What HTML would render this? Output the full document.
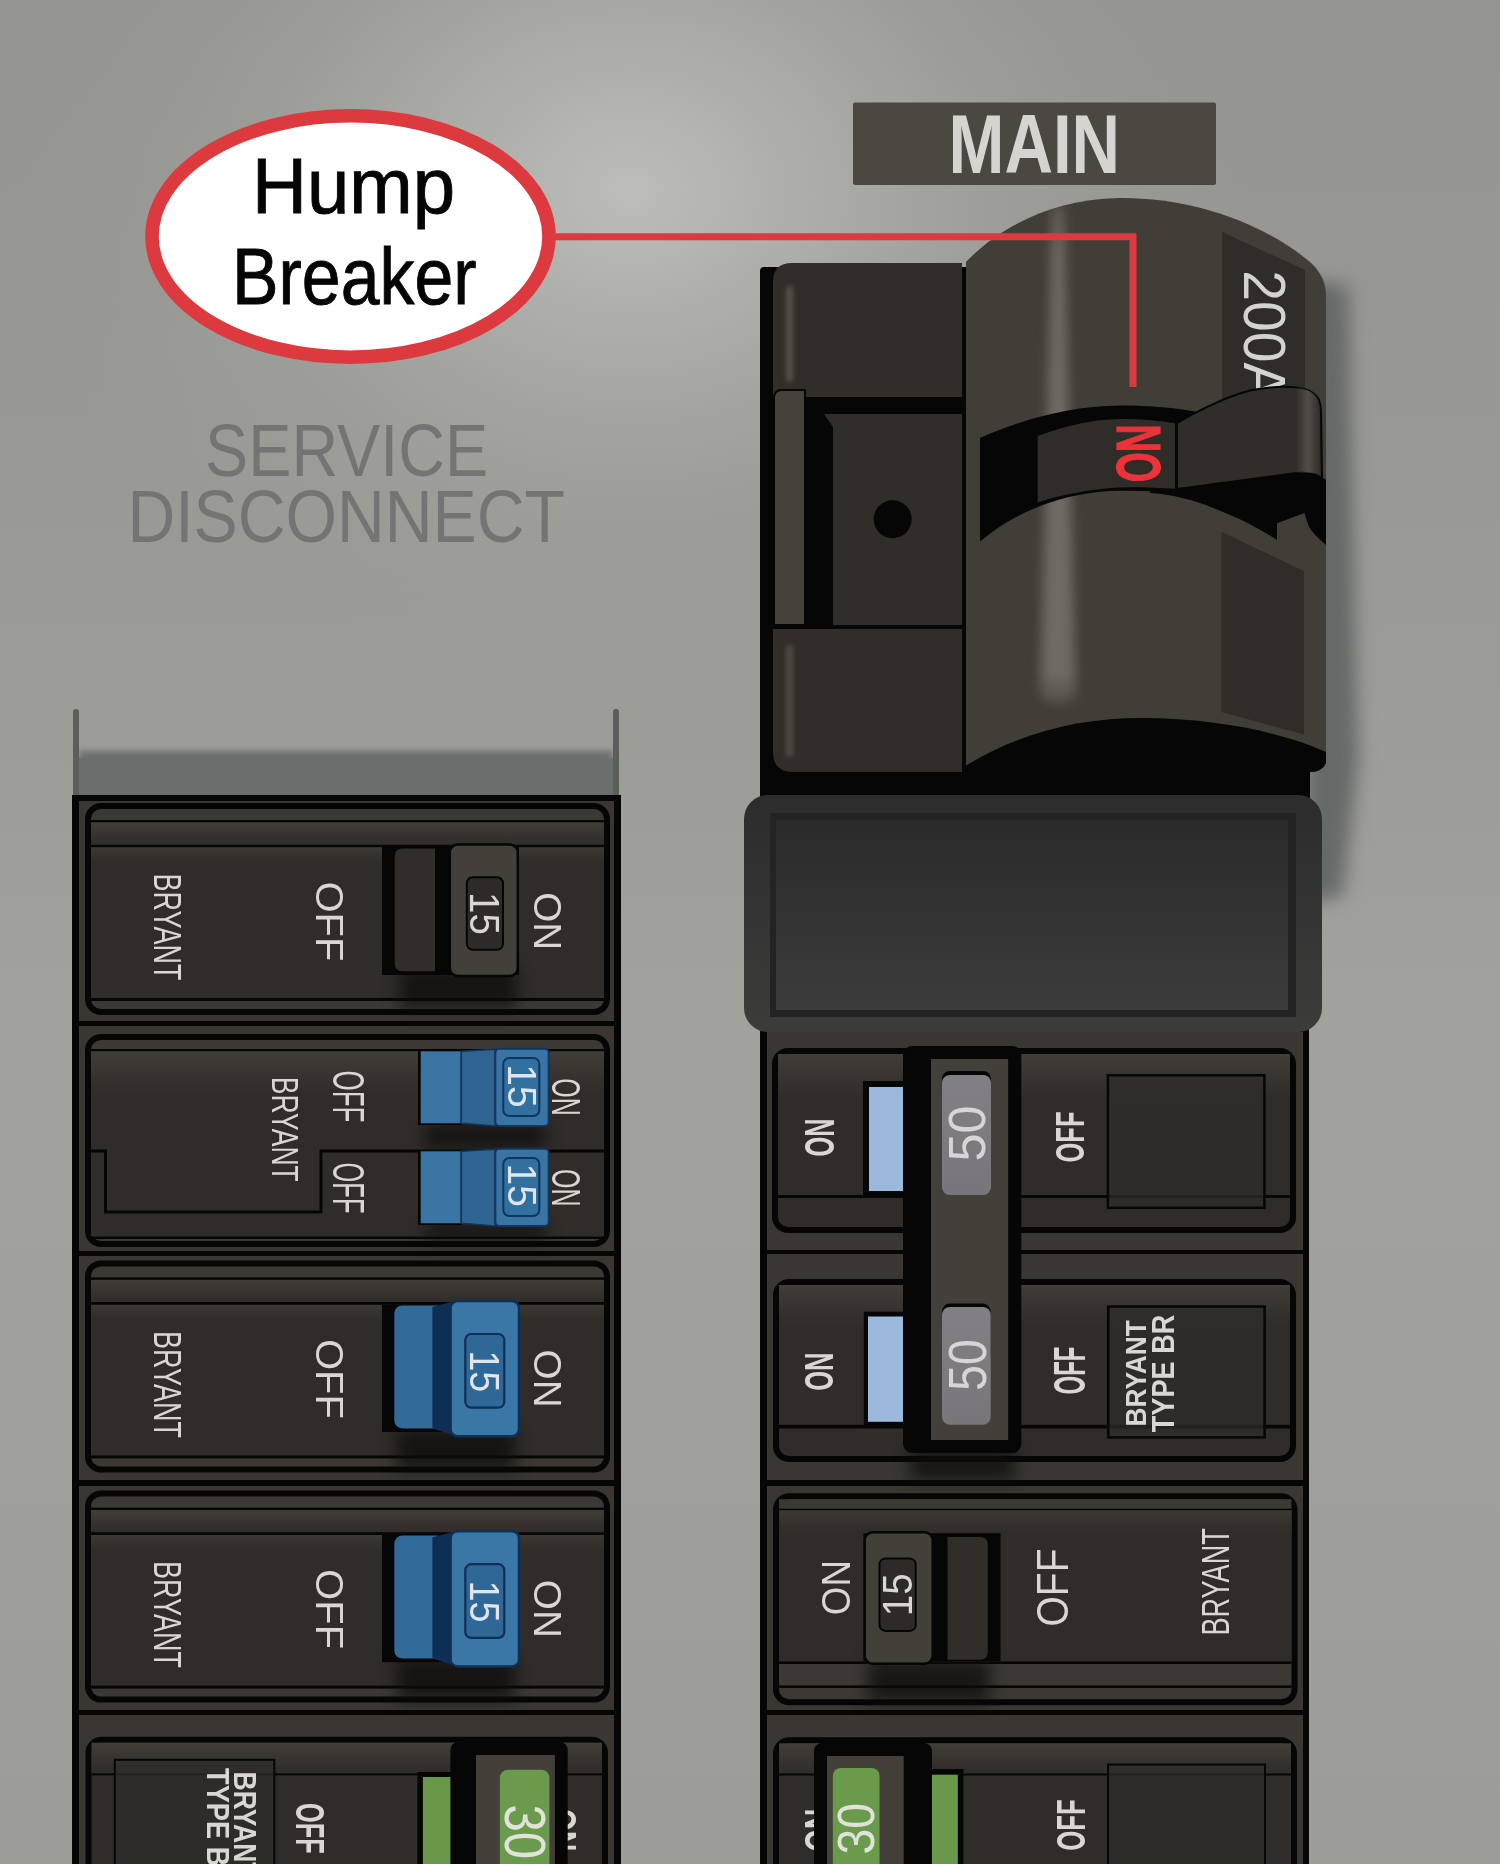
<!DOCTYPE html>
<html><head><meta charset="utf-8"><title>Hump Breaker</title>
<style>html,body{margin:0;padding:0;background:#9b9b96;overflow:hidden}svg{display:block;will-change:transform}
text{font-family:'Liberation Sans', sans-serif}</style></head>
<body><svg width="1500" height="1864" viewBox="0 0 1500 1864" font-family="'Liberation Sans', sans-serif">
<defs>
<linearGradient id="bgV" x1="0" y1="0" x2="0" y2="1864" gradientUnits="userSpaceOnUse">
 <stop offset="0" stop-color="#949490"/>
 <stop offset="0.32" stop-color="#9b9b96"/>
 <stop offset="0.55" stop-color="#a2a29d"/>
 <stop offset="0.8" stop-color="#a0a09b"/>
 <stop offset="1" stop-color="#9d9d98"/>
</linearGradient>
<radialGradient id="bgG" cx="630" cy="190" r="620" gradientUnits="userSpaceOnUse" gradientTransform="translate(630 190) scale(1 0.8) translate(-630 -190)">
 <stop offset="0" stop-color="#bdbdbb" stop-opacity="1"/>
 <stop offset="0.3" stop-color="#b0b0ad" stop-opacity="0.85"/>
 <stop offset="0.65" stop-color="#a3a39f" stop-opacity="0.4"/>
 <stop offset="1" stop-color="#9c9c97" stop-opacity="0"/>
</radialGradient>
<linearGradient id="faceTop" x1="0" y1="0" x2="0" y2="1">
 <stop offset="0" stop-color="#413d37"/>
 <stop offset="1" stop-color="#2f2c29"/>
</linearGradient>
<linearGradient id="faceTop2" x1="0" y1="0" x2="0" y2="1">
 <stop offset="0" stop-color="#3c3832"/>
 <stop offset="1" stop-color="#2f2c29"/>
</linearGradient>
<linearGradient id="streak" x1="0" y1="0" x2="1" y2="0">
 <stop offset="0" stop-color="#7c776f" stop-opacity="0"/>
 <stop offset="0.5" stop-color="#7c776f" stop-opacity="0.85"/>
 <stop offset="1" stop-color="#7c776f" stop-opacity="0"/>
</linearGradient>
<linearGradient id="streakS" x1="0" y1="0" x2="1" y2="0">
 <stop offset="0" stop-color="#55514a" stop-opacity="0"/>
 <stop offset="0.5" stop-color="#55514a" stop-opacity="0.9"/>
 <stop offset="1" stop-color="#55514a" stop-opacity="0"/>
</linearGradient>
<linearGradient id="coverG" x1="0" y1="0" x2="0" y2="1">
 <stop offset="0" stop-color="#2c2c2c"/>
 <stop offset="1" stop-color="#3c3c3b"/>
</linearGradient>
<linearGradient id="coverIn" x1="0" y1="0" x2="0" y2="1">
 <stop offset="0" stop-color="#2a2a2a"/>
 <stop offset="1" stop-color="#3c3c3c"/>
</linearGradient>
<linearGradient id="grayLbl" x1="0" y1="0" x2="0" y2="1">
 <stop offset="0" stop-color="#828085"/>
 <stop offset="1" stop-color="#78767a"/>
</linearGradient>
<linearGradient id="vfade" x1="0" y1="0" x2="0" y2="1">
 <stop offset="0" stop-color="#fff" stop-opacity="0.6"/>
 <stop offset="0.1" stop-color="#fff" stop-opacity="1"/>
 <stop offset="0.9" stop-color="#fff" stop-opacity="1"/>
 <stop offset="1" stop-color="#fff" stop-opacity="0"/>
</linearGradient>
<mask id="streakMask" maskUnits="userSpaceOnUse" x="1000" y="190" width="130" height="540"><rect x="1000" y="195" width="130" height="530" fill="url(#vfade)"/></mask>
<clipPath id="humpClip"><path d="M966,262 C1000,226 1055,199 1118,198 C1190,197 1262,222 1310,262 Q1326,276 1326,296 L1326,772 L966,772 Z"/></clipPath>
<clipPath id="leverClip"><path d="M1177,423.2 C1195,412 1225,397 1251,390.3 C1265,387.5 1280,386.5 1290,387 C1305,387.5 1315,392 1319,400 Q1321,405 1321,412 L1322,479 C1318,474 1312,472 1302,472.6 C1270,476 1220,484 1177,489 Z"/></clipPath>
<filter id="blur3" filterUnits="userSpaceOnUse" x="0" y="0" width="1500" height="1864"><feGaussianBlur stdDeviation="3"/></filter>
<filter id="blur4" filterUnits="userSpaceOnUse" x="0" y="0" width="1500" height="1864"><feGaussianBlur stdDeviation="4"/></filter>
<filter id="blur8" filterUnits="userSpaceOnUse" x="0" y="0" width="1500" height="1864"><feGaussianBlur stdDeviation="8"/></filter>
<filter id="blur12" filterUnits="userSpaceOnUse" x="0" y="0" width="1500" height="1864"><feGaussianBlur stdDeviation="12"/></filter>
</defs>
<rect x="0" y="0" width="1500" height="1864" fill="url(#bgV)"/>
<rect x="0" y="0" width="1500" height="1864" fill="url(#bgG)"/>
<rect x="79" y="751" width="534" height="60" fill="#6a6e6d" style="filter:blur(3px)"/>
<rect x="79.0" y="758.0" width="534.0" height="40.0" fill="#6a6e6d" />
<rect x="73.0" y="709.0" width="6.0" height="90.0" rx="3" fill="#5c5d5c" />
<rect x="613.0" y="709.0" width="6.0" height="90.0" rx="3" fill="#5c5d5c" />
<rect x="72.0" y="795.0" width="549.0" height="1080.0" fill="#060606" />
<rect x="79.0" y="801.0" width="535.0" height="1080.0" fill="#3a3732" />
<rect x="79.0" y="1021.0" width="535.0" height="5.0" fill="#060606" />
<rect x="79.0" y="1251.0" width="535.0" height="5.0" fill="#060606" />
<rect x="79.0" y="1480.0" width="535.0" height="6.0" fill="#060606" />
<rect x="79.0" y="1710.0" width="535.0" height="5.0" fill="#060606" />
<path d="M1305,280 L1348,286 L1358,760 L1343,895 L1305,905 Z" fill="#656968" style="filter:blur(9px)"/>
<rect x="760.0" y="700.0" width="549.0" height="1200.0" fill="#060606" />
<rect x="767.0" y="1032.0" width="536.0" height="840.0" fill="#3a3732" />
<rect x="767.0" y="1250.0" width="536.0" height="4.0" fill="#060606" />
<rect x="767.0" y="1480.0" width="536.0" height="6.0" fill="#060606" />
<rect x="767.0" y="1710.0" width="536.0" height="5.0" fill="#060606" />
<rect x="85.0" y="803.0" width="525.0" height="212.0" rx="16" fill="#060606" />
<rect x="91.0" y="809.0" width="513.0" height="200.0" rx="10" fill="#3c3934" />
<rect x="91.0" y="820.0" width="513.0" height="2.5" fill="#060606" />
<rect x="91.0" y="844.5" width="513.0" height="3.0" fill="#060606" />
<rect x="91.0" y="847.5" width="513.0" height="150.5" fill="#2f2c29" />
<rect x="91.0" y="998.0" width="513.0" height="3.0" fill="#060606" />
<rect x="91.0" y="822.5" width="513.0" height="22.0" fill="url(#faceTop)" />
<rect x="91.0" y="847.5" width="513.0" height="15.5" fill="url(#faceTop2)" />
<text transform="translate(167.2,927.0) rotate(90)" x="0" y="13.2" font-size="38.4" font-weight="normal" fill="#dad7d2" text-anchor="middle" textLength="107.0" lengthAdjust="spacingAndGlyphs">BRYANT</text>
<text transform="translate(329.6,921.5) rotate(90)" x="0" y="13.7" font-size="39.7" font-weight="normal" fill="#dad7d2" text-anchor="middle" textLength="80.0" lengthAdjust="spacingAndGlyphs">OFF</text>
<text transform="translate(547.3,921.2) rotate(90)" x="0" y="13.6" font-size="39.5" font-weight="normal" fill="#dad7d2" text-anchor="middle" textLength="58.0" lengthAdjust="spacingAndGlyphs">ON</text>
<rect x="400" y="968" width="117" height="40" fill="#0d0c0b" fill-opacity="0.75" style="filter:blur(8px)"/>
<rect x="382.0" y="847.0" width="137.0" height="128.0" fill="#060606" />
<path d="M435,848.5 L402.7,848.5 Q394.7,848.5 394.7,856.5 L394.7,963.3 Q394.7,971.3 402.7,971.3 L435,971.3 Z" fill="#312d29"/>
<rect x="449.8" y="844.4" width="68.0" height="131.5" rx="8" fill="#433f39" stroke="#060606" stroke-width="2.5"/>
<rect x="466.8" y="877.3" width="36.2" height="72.5" rx="6" fill="#2d2a27" stroke="#060606" stroke-width="2"/>
<text transform="translate(484.9,913.5) rotate(90)" x="0" y="14.5" font-size="42.2" font-weight="normal" fill="#dad7d2" text-anchor="middle" textLength="43.0" lengthAdjust="spacingAndGlyphs">15</text>
<rect x="85.0" y="1034.0" width="525.0" height="213.0" rx="16" fill="#060606" />
<rect x="91.0" y="1040.0" width="513.0" height="201.0" rx="10" fill="#3c3934" />
<rect x="91.0" y="1049.0" width="513.0" height="2.5" fill="#060606" />
<rect x="91.0" y="1051.5" width="513.0" height="185.0" fill="#2f2c29" />
<rect x="91.0" y="1236.5" width="513.0" height="2.5" fill="#060606" />
<rect x="91.0" y="1051.5" width="513.0" height="42.5" fill="url(#faceTop)" />
<polyline points="88,1151 105.5,1151 105.5,1212 321,1212 321,1151 604,1151" fill="none" stroke="#060606" stroke-width="3"/>
<text transform="translate(284.6,1129.3) rotate(90)" x="0" y="13.0" font-size="37.8" font-weight="normal" fill="#dad7d2" text-anchor="middle" textLength="105.0" lengthAdjust="spacingAndGlyphs">BRYANT</text>
<text transform="translate(348.0,1096.5) rotate(90)" x="0" y="15.0" font-size="43.6" font-weight="normal" fill="#dad7d2" text-anchor="middle" textLength="52.0" lengthAdjust="spacingAndGlyphs">OFF</text>
<text transform="translate(348.0,1188.0) rotate(90)" x="0" y="15.0" font-size="43.6" font-weight="normal" fill="#dad7d2" text-anchor="middle" textLength="51.0" lengthAdjust="spacingAndGlyphs">OFF</text>
<text transform="translate(566.0,1097.0) rotate(90)" x="0" y="14.0" font-size="40.7" font-weight="normal" fill="#dad7d2" text-anchor="middle" textLength="37.5" lengthAdjust="spacingAndGlyphs">ON</text>
<text transform="translate(566.0,1187.7) rotate(90)" x="0" y="14.0" font-size="40.7" font-weight="normal" fill="#dad7d2" text-anchor="middle" textLength="37.5" lengthAdjust="spacingAndGlyphs">ON</text>
<rect x="425" y="1124" width="120" height="24" fill="#0d0c0b" fill-opacity="0.75" style="filter:blur(8px)"/>
<rect x="425" y="1224" width="120" height="16" fill="#0d0c0b" fill-opacity="0.75" style="filter:blur(8px)"/>
<rect x="418.0" y="1050.0" width="44.0" height="75.0" fill="#060606" />
<rect x="420.7" y="1051.3" width="40.0" height="72.0" fill="#3a74a3" />
<path d="M461.3,1051.3 L495.3,1049.3 L495.3,1126.0 L461.3,1123.3 Z" fill="#2e6392" stroke="#0f3560" stroke-width="1.5"/>
<rect x="495.3" y="1048.7" width="53.4" height="77.3" rx="4" fill="#3a74a3" stroke="#0f3560" stroke-width="2"/>
<rect x="503.3" y="1058.0" width="36.0" height="58.0" rx="6" fill="#3270a0" stroke="#0f3560" stroke-width="2"/>
<text transform="translate(522.0,1086.0) rotate(90)" x="0" y="14.0" font-size="40.7" font-weight="normal" fill="#dfe5ea" text-anchor="middle" textLength="43.5" lengthAdjust="spacingAndGlyphs">15</text>
<rect x="418.0" y="1150.0" width="44.0" height="75.0" fill="#060606" />
<rect x="420.7" y="1151.3" width="40.0" height="72.0" fill="#3a74a3" />
<path d="M461.3,1151.3 L495.3,1149.3 L495.3,1226.0 L461.3,1223.3 Z" fill="#2e6392" stroke="#0f3560" stroke-width="1.5"/>
<rect x="495.3" y="1148.7" width="53.4" height="77.3" rx="4" fill="#3a74a3" stroke="#0f3560" stroke-width="2"/>
<rect x="503.3" y="1158.0" width="36.0" height="58.0" rx="6" fill="#3270a0" stroke="#0f3560" stroke-width="2"/>
<text transform="translate(522.0,1185.3) rotate(90)" x="0" y="14.0" font-size="40.7" font-weight="normal" fill="#dfe5ea" text-anchor="middle" textLength="43.5" lengthAdjust="spacingAndGlyphs">15</text>
<rect x="85.0" y="1260.4" width="525.0" height="212.0" rx="16" fill="#060606" />
<rect x="91.0" y="1266.4" width="513.0" height="200.0" rx="10" fill="#3c3934" />
<rect x="91.0" y="1277.4" width="513.0" height="2.5" fill="#060606" />
<rect x="91.0" y="1301.9" width="513.0" height="3.0" fill="#060606" />
<rect x="91.0" y="1304.9" width="513.0" height="150.5" fill="#2f2c29" />
<rect x="91.0" y="1455.4" width="513.0" height="3.0" fill="#060606" />
<rect x="91.0" y="1279.9" width="513.0" height="22.0" fill="url(#faceTop)" />
<rect x="91.0" y="1304.9" width="513.0" height="15.5" fill="url(#faceTop2)" />
<text transform="translate(167.2,1384.4) rotate(90)" x="0" y="13.2" font-size="38.4" font-weight="normal" fill="#dad7d2" text-anchor="middle" textLength="107.0" lengthAdjust="spacingAndGlyphs">BRYANT</text>
<text transform="translate(329.6,1378.9) rotate(90)" x="0" y="13.7" font-size="39.7" font-weight="normal" fill="#dad7d2" text-anchor="middle" textLength="80.0" lengthAdjust="spacingAndGlyphs">OFF</text>
<text transform="translate(547.3,1378.6) rotate(90)" x="0" y="13.6" font-size="39.5" font-weight="normal" fill="#dad7d2" text-anchor="middle" textLength="58.0" lengthAdjust="spacingAndGlyphs">ON</text>
<rect x="397" y="1428.4" width="118" height="42.0" fill="#0d0c0b" fill-opacity="0.75" style="filter:blur(8px)"/>
<rect x="382.0" y="1304.6" width="60.0" height="127.4" fill="#060606" />
<rect x="394.3" y="1305.4" width="50.0" height="123.0" rx="8" fill="#326a99" />
<path d="M432.4,1307.0 L451.5,1302.0 L451.5,1434.4 L432.4,1428.4 Z" fill="#0e2f55"/>
<rect x="450.6" y="1301.0" width="68.4" height="135.3" rx="7" fill="#3a76a6" stroke="#0e3056" stroke-width="2.5"/>
<rect x="465.3" y="1334.0" width="39.0" height="73.7" rx="6" fill="#2f6797" stroke="#0e3056" stroke-width="2.2"/>
<text transform="translate(484.8,1371.2) rotate(90)" x="0" y="14.5" font-size="42.2" font-weight="normal" fill="#dfe5ea" text-anchor="middle" textLength="42.0" lengthAdjust="spacingAndGlyphs">15</text>
<rect x="85.0" y="1490.6" width="525.0" height="212.0" rx="16" fill="#060606" />
<rect x="91.0" y="1496.6" width="513.0" height="200.0" rx="10" fill="#3c3934" />
<rect x="91.0" y="1507.6" width="513.0" height="2.5" fill="#060606" />
<rect x="91.0" y="1532.1" width="513.0" height="3.0" fill="#060606" />
<rect x="91.0" y="1535.1" width="513.0" height="150.5" fill="#2f2c29" />
<rect x="91.0" y="1685.6" width="513.0" height="3.0" fill="#060606" />
<rect x="91.0" y="1510.1" width="513.0" height="22.0" fill="url(#faceTop)" />
<rect x="91.0" y="1535.1" width="513.0" height="15.5" fill="url(#faceTop2)" />
<text transform="translate(167.2,1614.6) rotate(90)" x="0" y="13.2" font-size="38.4" font-weight="normal" fill="#dad7d2" text-anchor="middle" textLength="107.0" lengthAdjust="spacingAndGlyphs">BRYANT</text>
<text transform="translate(329.6,1609.1) rotate(90)" x="0" y="13.7" font-size="39.7" font-weight="normal" fill="#dad7d2" text-anchor="middle" textLength="80.0" lengthAdjust="spacingAndGlyphs">OFF</text>
<text transform="translate(547.3,1608.8) rotate(90)" x="0" y="13.6" font-size="39.5" font-weight="normal" fill="#dad7d2" text-anchor="middle" textLength="58.0" lengthAdjust="spacingAndGlyphs">ON</text>
<rect x="397" y="1658.6" width="118" height="42.0" fill="#0d0c0b" fill-opacity="0.75" style="filter:blur(8px)"/>
<rect x="382.0" y="1534.8" width="60.0" height="127.4" fill="#060606" />
<rect x="394.3" y="1535.6" width="50.0" height="123.0" rx="8" fill="#326a99" />
<path d="M432.4,1537.1999999999998 L451.5,1532.1999999999998 L451.5,1664.6 L432.4,1658.6 Z" fill="#0e2f55"/>
<rect x="450.6" y="1531.2" width="68.4" height="135.3" rx="7" fill="#3a76a6" stroke="#0e3056" stroke-width="2.5"/>
<rect x="465.3" y="1564.2" width="39.0" height="73.7" rx="6" fill="#2f6797" stroke="#0e3056" stroke-width="2.2"/>
<text transform="translate(484.8,1601.4) rotate(90)" x="0" y="14.5" font-size="42.2" font-weight="normal" fill="#dfe5ea" text-anchor="middle" textLength="42.0" lengthAdjust="spacingAndGlyphs">15</text>
<rect x="85.5" y="1736.7" width="522.5" height="200.0" rx="16" fill="#060606" />
<rect x="91.5" y="1742.7" width="510.5" height="200.0" rx="10" fill="#2f2c29" />
<rect x="91.5" y="1742.7" width="510.5" height="30.0" fill="url(#faceTop)" />
<rect x="91.5" y="1773.3" width="510.5" height="2.0" fill="#060606" />
<rect x="114.8" y="1759.8" width="159.5" height="120.0" fill="#2f2c29" fill-opacity="0.75" stroke="#060606" stroke-width="2"/>
<text transform="translate(244.5,1771.5) rotate(90)" x="0" y="10.5" font-size="30.5" font-weight="bold" fill="#dad7d2" text-anchor="start" textLength="107.0" lengthAdjust="spacingAndGlyphs">BRYANT</text>
<text transform="translate(217.5,1768.0) rotate(90)" x="0" y="10.5" font-size="30.5" font-weight="bold" fill="#dad7d2" text-anchor="start" textLength="118.0" lengthAdjust="spacingAndGlyphs">TYPE BR</text>
<text transform="translate(310.2,1828.3) rotate(90)" x="0" y="13.8" font-size="40.0" font-weight="bold" fill="#dad7d2" text-anchor="middle" textLength="50.7" lengthAdjust="spacingAndGlyphs">OFF</text>
<rect x="417.4" y="1772.0" width="40.0" height="120.0" fill="#060606" />
<rect x="422.9" y="1777.0" width="30.0" height="120.0" fill="#6a984a" />
<text transform="translate(562.0,1830.0) rotate(90)" x="0" y="14.0" font-size="40.7" font-weight="bold" fill="#dad7d2" text-anchor="middle" textLength="43.0" lengthAdjust="spacingAndGlyphs">ON</text>
<rect x="450.4" y="1742.0" width="117.3" height="140.0" rx="8" fill="#060606" />
<rect x="476.0" y="1755.0" width="78.9" height="140.0" fill="#433f39" />
<rect x="499.9" y="1769.7" width="49.5" height="120.0" rx="8" fill="#6a9a4b" />
<text transform="translate(524.5,1831.8) rotate(90)" x="0" y="19.5" font-size="56.7" font-weight="normal" fill="#dfe3d8" text-anchor="middle" textLength="54.7" lengthAdjust="spacingAndGlyphs">30</text>
<path d="M760,271 Q760,267 764,267 L966,267 L966,700 L1326,700 L1326,763 Q1322,772 1310,772 L1310,800 L760,800 Z" fill="#060606"/>
<path d="M773,282 Q773,263 792,263 L962,263 L962,397 L773,397 Z" fill="#312d29"/>
<rect x="786" y="286" width="7" height="96" rx="3" fill="#57534c" style="filter:blur(2.5px)"/>
<path d="M774,398 Q774,390 782,390 L805,390 L805,625 L774,625 Z" fill="#45413b" stroke="#060606" stroke-width="2"/>
<path d="M824,414 L962,414 L962,625 L833,625 L833,427 Z" fill="#312d29"/>
<circle cx="892.7" cy="519.3" r="19" fill="#060606"/>
<path d="M773,629 L962,629 L962,772 L793,772 Q773,772 773,752 Z" fill="#312d29"/>
<rect x="786" y="645" width="7" height="112" rx="3" fill="#504c45" style="filter:blur(2.5px)"/>
<path d="M966,262 C1000,226 1055,199 1118,198 C1190,197 1262,222 1310,262 Q1326,276 1326,296 L1326,760 Q1322,772 1310,772 L966,772 Z" fill="#413d37"/>
<g clip-path="url(#humpClip)"><g mask="url(#streakMask)"><path d="M1052,205 L1064,205 L1076,698 Q1058,714 1040,698 Z" fill="#6e6b64" style="filter:blur(6px)"/></g></g>
<path d="M1222,232 L1305,270 L1305,400 L1222,400 Z" fill="#302c28"/>
<text transform="translate(1264.0,270.3) rotate(90)" x="0" y="20.2" font-size="58.9" font-weight="normal" fill="#d5d3d0" text-anchor="start" textLength="129.0" lengthAdjust="spacingAndGlyphs">200A</text>
<path d="M1221.5,532 L1304,571 L1304,734.5 L1221.5,712 Z" fill="#302c28"/>
<path d="M962,772 L962,768 C1020,732 1080,718 1142,718 C1220,718 1290,735 1326,752 L1326,763 Q1322,772 1310,772 Z" fill="#060606"/>
<path d="M980,438 C1020,420 1070,406 1120,405.6 C1150,405.5 1175,408 1195,411.5 L1200,495.2 C1170,492 1140,490 1110,491 C1060,494 1015,512 980,541.6 Z" fill="#060606"/>
<path d="M1037.6,436 C1060,428 1090,419 1120,419 C1145,419 1160,421 1175,423.2 L1175,488.8 C1160,487.5 1140,487 1125,487.2 C1095,488 1060,495 1037.6,502.4 Z" fill="#302c28"/>
<text stroke="#ec3339" stroke-width="1.2" transform="translate(1138.5,453.3) rotate(-90)" x="0" y="21.5" font-size="62.5" font-weight="bold" fill="#ec3339" text-anchor="middle" textLength="58.0" lengthAdjust="spacingAndGlyphs">ON</text>
<path d="M1150,489 L1178,489 C1220,484 1270,476 1302,472.6 C1312,472 1320,476 1326,480 L1326,545 C1318,538 1312,532 1309.6,528 C1307,522 1305.5,517 1304.5,513 L1277,523.3 L1277,540 C1260,529 1240,518 1213,508 C1195,500 1170,494 1150,493 Z" fill="#060606"/>
<path d="M1177,423.2 C1195,412 1225,397 1251,390.3 C1265,387.5 1280,386.5 1290,387 C1305,387.5 1315,392 1319,400 Q1321,405 1321,412 L1322,479 C1318,474 1312,472 1302,472.6 C1270,476 1220,484 1177,489 Z" fill="#312d29" stroke="#060606" stroke-width="2"/>
<g clip-path="url(#leverClip)"><rect x="1296" y="385" width="24" height="95" fill="url(#streakS)"/></g>
<rect x="744" y="795" width="578" height="237" rx="24" fill="url(#coverG)"/>
<rect x="770" y="813" width="526" height="204" fill="#232323"/>
<rect x="776" y="820" width="512" height="190" fill="url(#coverIn)"/>
<rect x="772.0" y="1048.0" width="524.0" height="185.0" rx="16" fill="#060606" />
<rect x="778.0" y="1054.0" width="512.0" height="173.0" rx="10" fill="#2f2c29" />
<rect x="778.0" y="1054.0" width="512.0" height="46.0" fill="url(#faceTop)" />
<rect x="778.0" y="1195.0" width="512.0" height="3.0" fill="#060606" />
<rect x="773.0" y="1279.0" width="523.0" height="183.0" rx="16" fill="#060606" />
<rect x="779.0" y="1285.0" width="511.0" height="171.0" rx="10" fill="#2f2c29" />
<rect x="779.0" y="1285.0" width="511.0" height="40.0" fill="url(#faceTop)" />
<rect x="779.0" y="1424.8" width="511.0" height="3.7" fill="#060606" />
<rect x="1107.9" y="1075.2" width="156.5" height="132.6" fill="#2f2c29" fill-opacity="0.75" stroke="#060606" stroke-width="2.5"/>
<rect x="1108.2" y="1306.5" width="156.4" height="130.9" fill="#2f2c29" fill-opacity="0.75" stroke="#060606" stroke-width="2.5"/>
<text transform="translate(1136.0,1426.6) rotate(-90)" x="0" y="10.3" font-size="29.9" font-weight="bold" fill="#dad7d2" text-anchor="start" textLength="106.6" lengthAdjust="spacingAndGlyphs">BRYANT</text>
<text transform="translate(1163.0,1432.2) rotate(-90)" x="0" y="11.0" font-size="32.0" font-weight="bold" fill="#dad7d2" text-anchor="start" textLength="117.5" lengthAdjust="spacingAndGlyphs">TYPE BR</text>
<text transform="translate(819.5,1137.5) rotate(-90)" x="0" y="14.5" font-size="42.2" font-weight="bold" fill="#dad7d2" text-anchor="middle" textLength="38.0" lengthAdjust="spacingAndGlyphs">ON</text>
<text transform="translate(818.8,1371.6) rotate(-90)" x="0" y="14.0" font-size="40.7" font-weight="bold" fill="#dad7d2" text-anchor="middle" textLength="38.4" lengthAdjust="spacingAndGlyphs">ON</text>
<text transform="translate(1070.0,1137.0) rotate(-90)" x="0" y="14.0" font-size="40.7" font-weight="bold" fill="#dad7d2" text-anchor="middle" textLength="51.0" lengthAdjust="spacingAndGlyphs">OFF</text>
<text transform="translate(1070.0,1370.5) rotate(-90)" x="0" y="14.9" font-size="43.5" font-weight="bold" fill="#dad7d2" text-anchor="middle" textLength="48.0" lengthAdjust="spacingAndGlyphs">OFF</text>
<rect x="863.0" y="1081.0" width="42.0" height="114.0" fill="#060606" />
<rect x="869.0" y="1087.0" width="34.0" height="104.0" fill="#9bb9dc" />
<rect x="863.8" y="1311.7" width="42.0" height="114.0" fill="#060606" />
<rect x="868.0" y="1316.5" width="35.7" height="105.3" fill="#9bb9dc" />
<rect x="910" y="1450" width="105" height="30" fill="#0d0c0b" fill-opacity="0.75" style="filter:blur(8px)"/>
<rect x="903.0" y="1046.0" width="118.3" height="407.0" rx="9" fill="#060606" />
<rect x="931.0" y="1059.0" width="77.2" height="381.0" fill="#433f39" />
<rect x="942.0" y="1071.0" width="49.0" height="60.0" rx="8" fill="#060606" />
<rect x="942.0" y="1075.0" width="49.0" height="120.0" rx="8" fill="url(#grayLbl)" />
<rect x="942.0" y="1303.5" width="48.7" height="60.0" rx="8" fill="#060606" />
<rect x="942.0" y="1307.0" width="48.7" height="117.8" rx="8" fill="url(#grayLbl)" />
<text transform="translate(967.0,1133.5) rotate(-90)" x="0" y="18.0" font-size="52.3" font-weight="normal" fill="#d8d6d4" text-anchor="middle" textLength="56.0" lengthAdjust="spacingAndGlyphs">50</text>
<text transform="translate(967.0,1365.0) rotate(-90)" x="0" y="18.5" font-size="53.8" font-weight="normal" fill="#d8d6d4" text-anchor="middle" textLength="51.5" lengthAdjust="spacingAndGlyphs">50</text>
<rect x="773.0" y="1493.2" width="524.5" height="212.0" rx="16" fill="#060606" />
<rect x="779.0" y="1499.2" width="512.5" height="200.0" rx="10" fill="#3c3934" />
<rect x="779.0" y="1499.2" width="512.5" height="9.5" fill="#3c3934" />
<rect x="779.0" y="1508.7" width="512.5" height="1.8" fill="#060606" />
<rect x="779.0" y="1510.5" width="512.5" height="150.9" fill="#2f2c29" />
<rect x="779.0" y="1661.4" width="512.5" height="2.6" fill="#060606" />
<rect x="779.0" y="1685.4" width="512.5" height="2.6" fill="#060606" />
<rect x="779.0" y="1510.5" width="512.5" height="22.7" fill="url(#faceTop2)" />
<text transform="translate(835.6,1587.6) rotate(-90)" x="0" y="14.0" font-size="40.7" font-weight="normal" fill="#dad7d2" text-anchor="middle" textLength="55.2" lengthAdjust="spacingAndGlyphs">ON</text>
<text transform="translate(1053.0,1587.5) rotate(-90)" x="0" y="15.0" font-size="43.6" font-weight="normal" fill="#dad7d2" text-anchor="middle" textLength="78.0" lengthAdjust="spacingAndGlyphs">OFF</text>
<text transform="translate(1215.3,1581.9) rotate(-90)" x="0" y="13.2" font-size="38.5" font-weight="normal" fill="#dad7d2" text-anchor="middle" textLength="107.3" lengthAdjust="spacingAndGlyphs">BRYANT</text>
<rect x="868" y="1660" width="122" height="42" fill="#0d0c0b" fill-opacity="0.75" style="filter:blur(8px)"/>
<rect x="863.5" y="1533.2" width="137.0" height="128.0" fill="#060606" />
<path d="M947.5,1536.9 L979.8,1536.9 Q987.8,1536.9 987.8,1544.9 L987.8,1651.7 Q987.8,1659.7 979.8,1659.7 L947.5,1659.7 Z" fill="#312d29"/>
<rect x="864.7" y="1532.3" width="68.0" height="131.5" rx="8" fill="#433f39" stroke="#060606" stroke-width="2.5"/>
<rect x="879.5" y="1558.4" width="36.2" height="72.5" rx="6" fill="#2d2a27" stroke="#060606" stroke-width="2"/>
<text transform="translate(897.6,1594.7) rotate(-90)" x="0" y="14.5" font-size="42.2" font-weight="normal" fill="#dad7d2" text-anchor="middle" textLength="43.0" lengthAdjust="spacingAndGlyphs">15</text>
<rect x="773.0" y="1737.3" width="524.0" height="200.0" rx="16" fill="#060606" />
<rect x="779.0" y="1743.3" width="512.0" height="200.0" rx="10" fill="#2f2c29" />
<rect x="779.0" y="1743.3" width="512.0" height="30.0" fill="url(#faceTop)" />
<rect x="779.0" y="1773.5" width="512.0" height="2.0" fill="#060606" />
<rect x="1108.0" y="1764.5" width="157.0" height="120.0" fill="#2f2c29" fill-opacity="0.75" stroke="#060606" stroke-width="2"/>
<text transform="translate(1070.8,1825.0) rotate(-90)" x="0" y="14.0" font-size="40.7" font-weight="bold" fill="#dad7d2" text-anchor="middle" textLength="51.5" lengthAdjust="spacingAndGlyphs">OFF</text>
<rect x="926.0" y="1769.0" width="37.4" height="120.0" fill="#060606" />
<rect x="931.7" y="1774.7" width="26.1" height="120.0" fill="#6a984a" />
<text transform="translate(819.0,1830.0) rotate(-90)" x="0" y="14.0" font-size="40.7" font-weight="bold" fill="#dad7d2" text-anchor="middle" textLength="43.0" lengthAdjust="spacingAndGlyphs">ON</text>
<rect x="814.0" y="1743.0" width="118.0" height="140.0" rx="8" fill="#060606" />
<rect x="827.0" y="1756.0" width="76.7" height="140.0" fill="#433f39" />
<rect x="832.8" y="1768.0" width="46.7" height="120.0" rx="8" fill="#6a9a4b" />
<text transform="translate(856.0,1828.8) rotate(-90)" x="0" y="18.0" font-size="52.3" font-weight="normal" fill="#dfe3d8" text-anchor="middle" textLength="51.5" lengthAdjust="spacingAndGlyphs">30</text>
<polyline points="552,236.8 1133,236.8 1133,387" fill="none" stroke="#dc3a3e" stroke-width="7"/>
<ellipse cx="350.5" cy="236.5" rx="198.5" ry="120.7" fill="#ffffff" stroke="#dc3a3e" stroke-width="13.6"/>
<text stroke="#050505" stroke-width="0.9" x="353.5" y="212.7" font-size="78.5" font-weight="normal" fill="#050505" text-anchor="middle" textLength="203.0" lengthAdjust="spacingAndGlyphs">Hump</text>
<text stroke="#050505" stroke-width="0.9" x="354.3" y="304.3" font-size="78.9" font-weight="normal" fill="#050505" text-anchor="middle" textLength="244.5" lengthAdjust="spacingAndGlyphs">Breaker</text>
<rect x="853.0" y="102.5" width="363.0" height="82.5" rx="2" fill="#4b4741" />
<text x="1034.3" y="172.7" font-size="83.6" font-weight="bold" fill="#d6d4d1" text-anchor="middle" textLength="171.5" lengthAdjust="spacingAndGlyphs">MAIN</text>
<text x="346.6" y="476.1" font-size="73.7" font-weight="normal" fill="#737574" text-anchor="middle" textLength="283.0" lengthAdjust="spacingAndGlyphs">SERVICE</text>
<text x="346.2" y="542.0" font-size="73.7" font-weight="normal" fill="#737574" text-anchor="middle" textLength="437.5" lengthAdjust="spacingAndGlyphs">DISCONNECT</text>
</svg></body></html>
